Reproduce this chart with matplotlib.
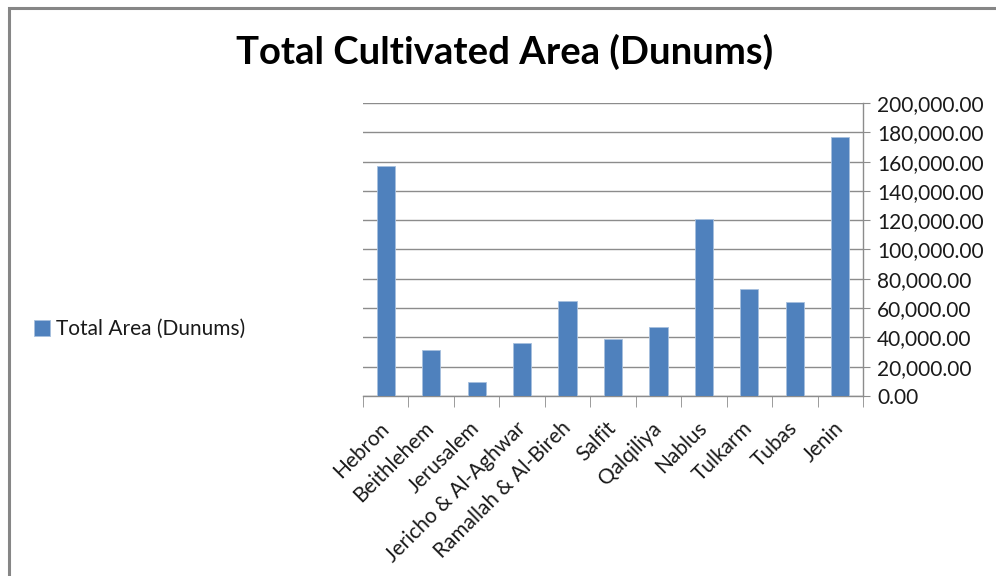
import matplotlib.pyplot as plt
import numpy as np
from matplotlib.patches import Rectangle
from matplotlib.ticker import FuncFormatter, FixedLocator

plt.rcParams['font.family'] = ['Lato', 'DejaVu Sans']

# data
districts = ['Hebron', 'Beithlehem', 'Jerusalem', 'Jericho & Al-Aghwar',
             'Ramallah & Al-Bireh', 'Salfit', 'Qalqiliya', 'Nablus',
             'Tulkarm', 'Tubas', 'Jenin']
total_area = [156700, 31400, 9600, 36000, 65100, 39200, 47200, 120700,
              73300, 64500, 177000]
series_name = 'Total Area (Dunums)'
title = 'Total Cultivated Area (Dunums)'

bar_color = '#4F81BD'
grid_color = '#8C8C8C'
text_color = '#1a1a1a'
fs = 15

fig = plt.figure(figsize=(9.96, 5.76), dpi=100)
W, H = 996, 576
ax = fig.add_axes([363 / W, 1 - 396 / H, 500 / W, 293 / H])

x = np.arange(len(districts))
ax.bar(x, total_area, width=0.4, color=bar_color, edgecolor='#A7C0DE', linewidth=0.6,
       label=series_name, zorder=3)

ax.set_xlim(-0.5, len(districts) - 0.5)
ax.set_ylim(0, 200000)
ax.set_yticks(np.arange(0, 200001, 20000))
ax.yaxis.set_major_formatter(FuncFormatter(lambda v, p: '{:,.2f}'.format(v)))
ax.yaxis.tick_right()
ax.tick_params(axis='y', which='major', length=5, color=grid_color, labelsize=fs,
               pad=5, labelcolor=text_color)
ax.grid(axis='y', color=grid_color, linewidth=1, zorder=0)

# category labels at centres, tick marks at the boundaries
ax.set_xticks(x)
ax.set_xticklabels(districts, rotation=45, ha='right', va='center',
                   rotation_mode='anchor', fontsize=fs, color=text_color)
ax.tick_params(axis='x', which='major', length=0, pad=21)
ax.xaxis.set_minor_locator(FixedLocator(np.arange(-0.5, len(districts), 1.0)))
ax.tick_params(axis='x', which='minor', length=8, color=grid_color)

for side in ['top', 'left']:
    ax.spines[side].set_visible(False)
for side in ['right', 'bottom']:
    ax.spines[side].set_color(grid_color)
    ax.spines[side].set_linewidth(1)

fig.text(505 / W, 1 - 52 / H, title, ha='center', va='center',
         fontsize=27.5, fontweight='bold', color='black')

# legend on the left
handles, labels = ax.get_legend_handles_labels()
fig.legend(handles, labels, loc='center left', bbox_to_anchor=(15 / W, 1 - 329 / H),
           frameon=False, fontsize=fs, handlelength=0.8, handleheight=0.8,
           handletextpad=0.25, labelcolor=text_color)

# chart area border
fig.patches.append(Rectangle((9 / W, -0.1), 1.2, 1.1 - 8 / H, transform=fig.transFigure,
                             fill=False, edgecolor='#868686', linewidth=2.2))

fig.savefig('out.png', dpi=100, facecolor='white')
